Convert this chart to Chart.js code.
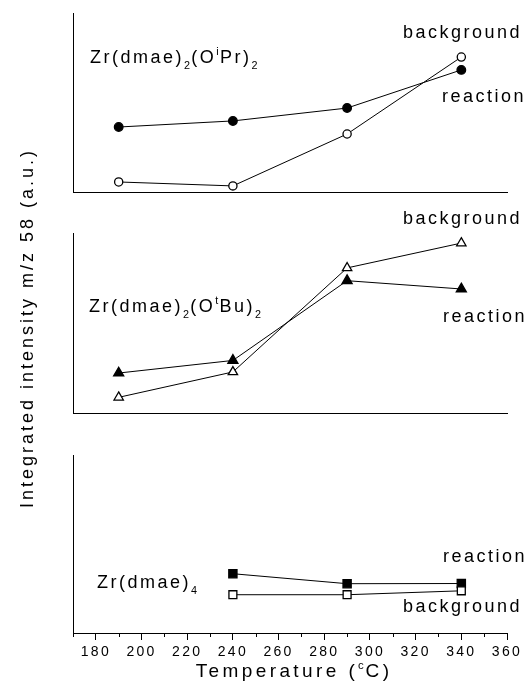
<!DOCTYPE html>
<html>
<head>
<meta charset="utf-8">
<title>Integrated intensity m/z 58 vs temperature</title>
<script src="https://cdn.jsdelivr.net/npm/chart.js@4.4.0/dist/chart.umd.min.js"></script>
<style>
  html, body { margin: 0; padding: 0; background: #fff; }
  #wrap { position: relative; width: 529px; height: 700px; }
  #wrap canvas { position: absolute; left: 0; top: 0; }
</style>
</head>
<body>
<div id="wrap">
  <canvas id="panelDmae" width="529" height="700"></canvas>
  <canvas id="panelTbu" width="529" height="700"></canvas>
  <canvas id="panelIpr" width="529" height="700"></canvas>
</div>
<script>
// temperatures (°C)
const temps = [190, 240, 290, 340];
const dmaeTemps = [240, 290, 340];

// Zr(dmae)2(OiPr)2
const iprReaction = [36.3, 39.7, 46.9, 68.2];
const iprBackground = [5.6, 3.4, 32.4, 75.4];

// Zr(dmae)2(OtBu)2
const tbuReaction = [22.2, 29.2, 73.5, 68.9];
const tbuBackground = [8.7, 22.8, 80.6, 94.4];

// Zr(dmae)4
const dmaeReaction = [33.3, 27.7, 27.8];
const dmaeBackground = [21.5, 21.5, 23.7];

const xTicks = [180, 200, 220, 240, 260, 280, 300, 320, 340, 360];
const xMinorTicks = [170, 190, 210, 230, 250, 270, 290, 310, 330, 350];

const FONT = "'Liberation Sans', Arial, Helvetica, sans-serif";

// text with sub/superscript pieces, e.g. [['Zr(dmae)', ''], ['4', 'sub']]
function setPart(ctx, kind, size, spacing) {
  const small = kind === 'sub' || kind === 'sup';
  ctx.font = (small ? size * 0.6 : size) + 'px ' + FONT;
  ctx.letterSpacing = (small ? spacing * 0.5 : spacing) + 'px';
}

function richWidth(ctx, parts, size, spacing) {
  let w = 0;
  parts.forEach(([text, kind]) => {
    setPart(ctx, kind, size, spacing);
    w += ctx.measureText(text).width;
  });
  return w;
}

function drawRich(ctx, item) {
  const size = item.size || 18;
  const spacing = item.spacing ?? 2.5;
  ctx.save();
  ctx.fillStyle = '#000';
  ctx.textAlign = 'left';
  ctx.textBaseline = 'alphabetic';
  ctx.translate(item.x, item.y);
  if (item.rotate) ctx.rotate(item.rotate);
  let cx = item.center ? -richWidth(ctx, item.parts, size, spacing) / 2 : 0;
  item.parts.forEach(([text, kind]) => {
    setPart(ctx, kind, size, spacing);
    let dy = 0;
    if (kind === 'sub') dy = size * 0.31;
    if (kind === 'sup') dy = -size * 0.44;
    ctx.fillText(text, cx, dy);
    cx += ctx.measureText(text).width;
  });
  ctx.restore();
}

const panelText = {
  id: 'panelText',
  beforeDraw(chart) {
    chart.ctx.letterSpacing = '2.3px';
  },
  afterDraw(chart, args, opts) {
    const ctx = chart.ctx;
    const x = chart.scales.x;
    if (opts.minor) {
      ctx.save();
      ctx.strokeStyle = '#000';
      ctx.lineWidth = 1;
      ctx.beginPath();
      opts.minor.forEach(v => {
        const px = Math.round(x.getPixelForValue(v)) + 0.5;
        ctx.moveTo(px, x.top);
        ctx.lineTo(px, x.top + 4);
      });
      ctx.stroke();
      ctx.restore();
    }
    (opts.items || []).forEach(it => drawRich(ctx, it));
  }
};

function series(xs, ys, style, filled, radius) {
  return {
    data: xs.map((x, i) => ({ x, y: ys[i] })),
    borderColor: '#000',
    borderWidth: 1,
    pointStyle: style,
    pointRadius: radius,
    pointBackgroundColor: filled ? '#000' : '#fff',
    pointBorderColor: '#000',
    pointBorderWidth: 1.3,
    tension: 0,
    clip: false
  };
}

function makePanel(id, datasets, area, withTicks, items) {
  // the bottom panel keeps room under its axis for the tick labels
  const axisHeight = withTicks ? 700 - area.bottom : 0;
  const xScale = {
    type: 'linear',
    min: 170,
    max: 360,
    afterFit: s => { s.height = axisHeight; },
    border: { display: true, color: '#000', width: 1 },
    grid: { display: false },
    ticks: { display: false }
  };
  if (withTicks) {
    xScale.afterBuildTicks = s => { s.ticks = xTicks.map(v => ({ value: v })); };
    xScale.grid = { display: true, drawOnChartArea: false, drawTicks: true, tickLength: 7, tickColor: '#000', tickWidth: 1 };
    xScale.ticks = { display: true, color: '#000', font: { family: FONT, size: 14 }, padding: 4, maxRotation: 0, autoSkip: false };
  }
  return new Chart(document.getElementById(id), {
    type: 'line',
    data: { datasets },
    options: {
      responsive: false,
      animation: false,
      events: [],
      layout: {
        padding: { left: area.left, right: 529 - area.right, top: area.top, bottom: 700 - area.bottom - axisHeight }
      },
      plugins: {
        legend: { display: false },
        tooltip: { enabled: false },
        panelText: { items, minor: withTicks ? xMinorTicks : null }
      },
      scales: {
        x: xScale,
        y: {
          min: 0,
          max: 100,
          afterFit: s => { s.width = 0; },
          border: { display: true, color: '#000', width: 1 },
          grid: { display: false },
          ticks: { display: false }
        }
      }
    },
    plugins: [panelText]
  });
}

makePanel('panelIpr', [
  series(temps, iprReaction, 'circle', true, 4.3),
  series(temps, iprBackground, 'circle', false, 4.1)
], { left: 73, right: 507, top: 13, bottom: 192 }, false, [
  { parts: [['Zr(dmae)', ''], ['2', 'sub'], ['(O', ''], ['i', 'sup'], ['Pr)', ''], ['2', 'sub']], x: 90, y: 63 },
  { parts: [['background', '']], x: 403, y: 38 },
  { parts: [['reaction', '']], x: 442, y: 102 }
]);

makePanel('panelTbu', [
  series(temps, tbuReaction, 'triangle', true, 5.8),
  series(temps, tbuBackground, 'triangle', false, 5.4)
], { left: 73, right: 507, top: 233, bottom: 413 }, false, [
  { parts: [['Zr(dmae)', ''], ['2', 'sub'], ['(O', ''], ['t', 'sup'], ['Bu)', ''], ['2', 'sub']], x: 89, y: 312 },
  { parts: [['background', '']], x: 403, y: 224 },
  { parts: [['reaction', '']], x: 443, y: 322 }
]);

makePanel('panelDmae', [
  series(dmaeTemps, dmaeBackground, 'rect', false, 5.6),
  series(dmaeTemps, dmaeReaction, 'rect', true, 5.8)
], { left: 73, right: 507, top: 455, bottom: 633 }, true, [
  { parts: [['Zr(dmae)', ''], ['4', 'sub']], x: 97, y: 588 },
  { parts: [['reaction', '']], x: 443, y: 562 },
  { parts: [['background', '']], x: 403, y: 612 },
  { parts: [['Temperature (', ''], ['c', 'sup'], ['C)', '']], x: 294, y: 677, size: 19, spacing: 3.4, center: true },
  { parts: [['Integrated intensity m/z 58 (a.u.)', '']], x: 33, y: 328, size: 18, spacing: 3.0, center: true, rotate: -Math.PI / 2 }
]);
</script>
</body>
</html>
